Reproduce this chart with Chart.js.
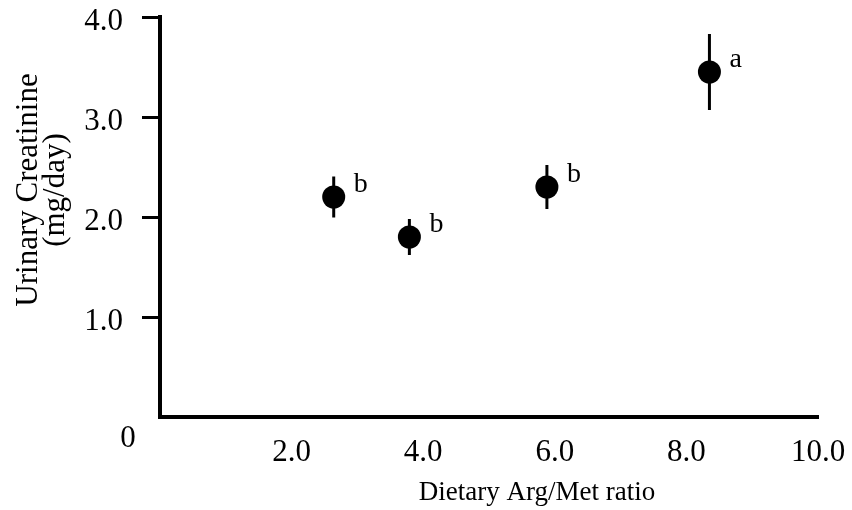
<!DOCTYPE html>
<html lang="en">
<head>
<meta charset="UTF-8">
<title>Urinary Creatinine vs Dietary Arg/Met ratio</title>
<style>
    html, body { margin: 0; padding: 0; background: #ffffff; }
    #creatChart { display: block; }
</style>
</head>
<body>
<canvas id="creatChart" width="852" height="510"></canvas>
<script src="https://cdn.jsdelivr.net/npm/chart.js"></script>
<script>
// values
const argMetRatio = [2.64, 3.79, 5.88, 8.35];
const creatinine = [2.20, 1.80, 2.30, 3.45];
const creatinineErr = [0.205, 0.18, 0.22, 0.38];
const groupLetters = ['b', 'b', 'b', 'a'];
const xTicks = [2, 4, 6, 8, 10];
const yTicks = [1, 2, 3, 4];

const serif = "'Liberation Serif', 'Times New Roman', serif";

// error bars, significance letters, axis titles
const extras = {
    id: 'extras',
    beforeDatasetsDraw(chart) {
        const {ctx, scales: {x, y}} = chart;
        ctx.save();
        ctx.strokeStyle = '#000';
        ctx.lineWidth = 3;
        argMetRatio.forEach((v, i) => {
            const px = x.getPixelForValue(v);
            ctx.beginPath();
            ctx.moveTo(px, y.getPixelForValue(creatinine[i] + creatinineErr[i]));
            ctx.lineTo(px, y.getPixelForValue(creatinine[i] - creatinineErr[i]));
            ctx.stroke();
        });
        ctx.restore();
    },
    afterDraw(chart) {
        const {ctx, chartArea, scales: {x, y}} = chart;
        ctx.save();
        ctx.fillStyle = '#000';

        // letters next to the points
        ctx.font = '28px ' + serif;
        ctx.textAlign = 'left';
        ctx.textBaseline = 'alphabetic';
        argMetRatio.forEach((v, i) => {
            ctx.fillText(groupLetters[i], x.getPixelForValue(v) + 20, y.getPixelForValue(creatinine[i]) - 5);
        });

        // the lone "0" at the origin corner
        ctx.font = '31px ' + serif;
        ctx.textAlign = 'center';
        ctx.fillText('0', chartArea.left - 32, y.getPixelForValue(0) + 30);

        // x title
        ctx.font = '27px ' + serif;
        ctx.fillText('Dietary Arg/Met ratio', 537, 500);

        // y title, two lines
        ctx.translate(37, 190);
        ctx.rotate(-Math.PI / 2);
        ctx.font = '31px ' + serif;
        ctx.fillText('Urinary Creatinine', 0, 0);
        ctx.fillText('(mg/day)', 0, 27);
        ctx.restore();
    }
};

const ctx = document.getElementById('creatChart').getContext('2d');
const creatChart = new Chart(ctx, {
    type: 'scatter',
    data: {
        datasets: [{
            label: 'Urinary Creatinine',
            data: argMetRatio.map((v, i) => ({x: v, y: creatinine[i]})),
            backgroundColor: '#000',
            borderWidth: 0,
            pointRadius: 11.5,
            pointHoverRadius: 11.5
        }]
    },
    options: {
        responsive: false,
        animation: false,
        layout: { padding: { top: 17, right: 34, left: 0, bottom: 0 } },
        plugins: {
            legend: { display: false },
            tooltip: { enabled: false }
        },
        scales: {
            x: {
                type: 'linear',
                min: 0,
                max: 10,
                afterBuildTicks: s => { s.ticks = xTicks.map(v => ({value: v})); },
                afterFit: s => { s.height = 93; s.paddingLeft = 0; s.paddingRight = 0; },
                grid: { display: false, drawTicks: false },
                border: { display: true, color: '#000', width: 4 },
                ticks: {
                    color: '#000',
                    padding: 17,
                    maxRotation: 0,
                    font: { family: serif, size: 31 },
                    callback: v => v.toFixed(1)
                }
            },
            y: {
                type: 'linear',
                min: 0,
                max: 4,
                afterBuildTicks: s => { s.ticks = yTicks.map(v => ({value: v})); },
                afterFit: s => { s.width = 160; s.paddingTop = 0; s.paddingBottom = 0; },
                grid: {
                    display: true,
                    drawOnChartArea: false,
                    drawTicks: true,
                    tickLength: 18,
                    color: '#000',
                    lineWidth: 3
                },
                border: { display: true, color: '#000', width: 4 },
                ticks: {
                    color: '#000',
                    padding: 19,
                    labelOffset: 5,
                    font: { family: serif, size: 31, lineHeight: 1 },
                    callback: v => v.toFixed(1)
                }
            }
        }
    },
    plugins: [extras]
});
</script>
</body>
</html>
